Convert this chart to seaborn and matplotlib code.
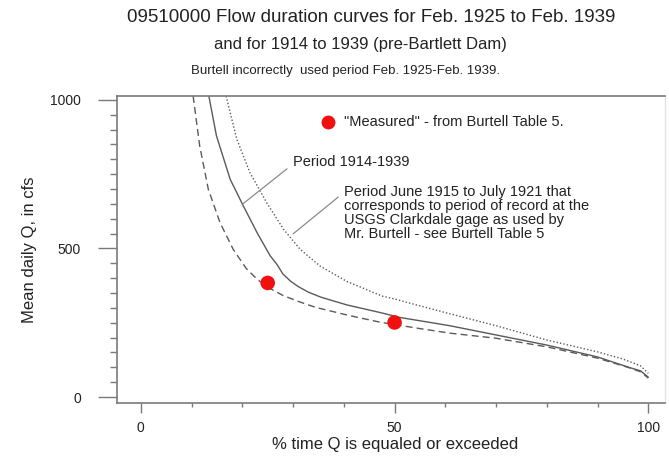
import matplotlib
matplotlib.use("Agg")
import matplotlib.pyplot as plt
import seaborn as sns
import pandas as pd
from matplotlib.ticker import MultipleLocator

# ---- data ----
# Feb. 1925 - Feb. 1939 (dashed)
pct_1925_1939 = [10.3, 11.6, 13.3, 15.6, 18.2, 20.8, 23.0, 25.5, 28.0, 31.0, 34.4, 40.9, 47.1, 50.0,
                 54.4, 60.9, 70.0, 80.0, 90.0, 96.0, 98.5, 100.0]
q_1925_1939 = [1013, 845, 699, 587, 497, 432, 395, 365, 342, 322, 302, 275, 252, 244,
               232, 215, 198, 169, 131, 100, 85, 64]

# 1914 - 1939 (solid)
pct_1914_1939 = [13.4, 14.9, 17.6, 20.2, 23.0, 25.5, 26.8, 28.0, 29.5, 31.0, 33.0, 35.5, 40.6, 47.0,
                 51.0, 60.9, 70.0, 80.0, 90.0, 96.0, 98.5, 100.0]
q_1914_1939 = [1013, 879, 733, 643, 550, 475, 447, 414, 390, 372, 353, 336, 310, 285,
               268, 240, 209, 175, 135, 101, 88, 67]

# June 1915 - July 1921 (dotted)
pct_1915_1921 = [16.8, 18.9, 21.5, 24.8, 28.1, 31.4, 35.3, 40.6, 44.0, 47.5, 50.0, 53.0, 60.5,
                 70.0, 80.0, 90.0, 95.0, 98.5, 100.0]
q_1915_1921 = [1013, 868, 755, 654, 565, 497, 441, 389, 365, 340, 330, 316, 282,
               240, 192, 152, 128, 105, 80]

measured_pct = [25, 50]
measured_q = [384, 251]

x_ticks = [0, 50, 100]
y_ticks = [0, 500, 1000]

title1 = "09510000 Flow duration curves for Feb. 1925 to Feb. 1939"
title2 = "and for 1914 to 1939 (pre-Bartlett Dam)"
title3 = "Burtell incorrectly  used period Feb. 1925-Feb. 1939."

sns.set_style("ticks")
plt.rcParams["font.family"] = ["Liberation Sans", "DejaVu Sans"]

W, H = 669, 463
fig = plt.figure(figsize=(W / 100, H / 100), dpi=100)
ax = fig.add_axes([117 / W, 1 - 403 / H, (665 - 117) / W, (403 - 96) / H])

line_col = "#5a5a5a"
txt_col = "#222222"
spine_col = "#7a7a7a"

df1 = pd.DataFrame({"pct": pct_1925_1939, "q": q_1925_1939})
df2 = pd.DataFrame({"pct": pct_1914_1939, "q": q_1914_1939})
df3 = pd.DataFrame({"pct": pct_1915_1921, "q": q_1915_1921})

sns.lineplot(data=df1, x="pct", y="q", ax=ax, color=line_col, lw=1.0,
             linestyle=(0, (5, 3)), sort=False, estimator=None)
sns.lineplot(data=df2, x="pct", y="q", ax=ax, color=line_col, lw=1.0,
             linestyle="-", sort=False, estimator=None)
sns.lineplot(data=df3, x="pct", y="q", ax=ax, color=line_col, lw=1.0,
             linestyle=(0, (1.0, 1.5)), sort=False, estimator=None)

mdf = pd.DataFrame({"pct": measured_pct, "q": measured_q})
sns.scatterplot(data=mdf, x="pct", y="q", ax=ax, color="#f01010", s=110,
                edgecolor="none", zorder=5)

ax.set_xlim(-4.7, 103.3)
ax.set_ylim(-20, 1013)
ax.set_xticks(x_ticks)
ax.set_yticks(y_ticks)
ax.set_xticklabels([str(v) for v in x_ticks])
ax.set_yticklabels([str(v) for v in y_ticks])
ax.xaxis.set_minor_locator(MultipleLocator(10))
ax.yaxis.set_minor_locator(MultipleLocator(50))

ax.tick_params(axis="y", which="major", length=14, width=1.0, color=spine_col,
               labelsize=10, labelcolor=txt_col, pad=12, direction="out")
ax.tick_params(axis="y", which="minor", length=5, width=1.0, color=spine_col, direction="out")
ax.tick_params(axis="x", which="major", length=7, width=1.0, color=spine_col,
               labelsize=10, labelcolor=txt_col, pad=6, direction="out")
ax.tick_params(axis="x", which="minor", length=3, width=1.0, color=spine_col, direction="out")

for side in ["left", "bottom", "top"]:
    ax.spines[side].set_color(spine_col)
    ax.spines[side].set_linewidth(1.2)
ax.spines["right"].set_color("#e4e4e4")
ax.spines["right"].set_linewidth(1.0)

ax.set_xlabel("% time Q is equaled or exceeded", fontsize=12, color=txt_col)
ax.set_ylabel("Mean daily Q, in cfs", fontsize=12, color=txt_col)
ax.xaxis.set_label_coords(0.507, -0.112)
ax.yaxis.set_label_coords(-0.146, 0.5)

# titles
fig.text(371 / W, 1 - 17 / H, title1, ha="center", va="center", fontsize=13.5, color=txt_col)
fig.text(360 / W, 1 - 45 / H, title2, ha="center", va="center", fontsize=12, color=txt_col)
fig.text(345 / W, 1 - 71 / H, title3, ha="center", va="center", fontsize=9.5, color=txt_col)

# legend-like key
ax.plot([36.9], [926], marker="o", color="#f01010", markersize=10, markeredgewidth=0,
        linestyle="none", clip_on=False)
ax.text(40.0, 926, '"Measured" - from Burtell Table 5.', ha="left", va="center",
        fontsize=10.5, color=txt_col)

# annotations with leader lines
lead_col = "#8a8a8a"
ax.annotate("", xy=(20.1, 650), xytext=(28.8, 768),
            arrowprops=dict(arrowstyle="-", color=lead_col, lw=0.9, shrinkA=0, shrinkB=0))
ax.text(30.0, 790, "Period 1914-1939", ha="left", va="center", fontsize=10.5, color=txt_col)

ax.annotate("", xy=(30.0, 549), xytext=(38.9, 673),
            arrowprops=dict(arrowstyle="-", color=lead_col, lw=0.9, shrinkA=0, shrinkB=0))
ax.text(40.0, 712,
        "Period June 1915 to July 1921 that\ncorresponds to period of record at the\n"
        "USGS Clarkdale gage as used by\nMr. Burtell - see Burtell Table 5",
        ha="left", va="top", fontsize=10.5, color=txt_col, linespacing=1.0)

fig.savefig("out.png", dpi=100)
